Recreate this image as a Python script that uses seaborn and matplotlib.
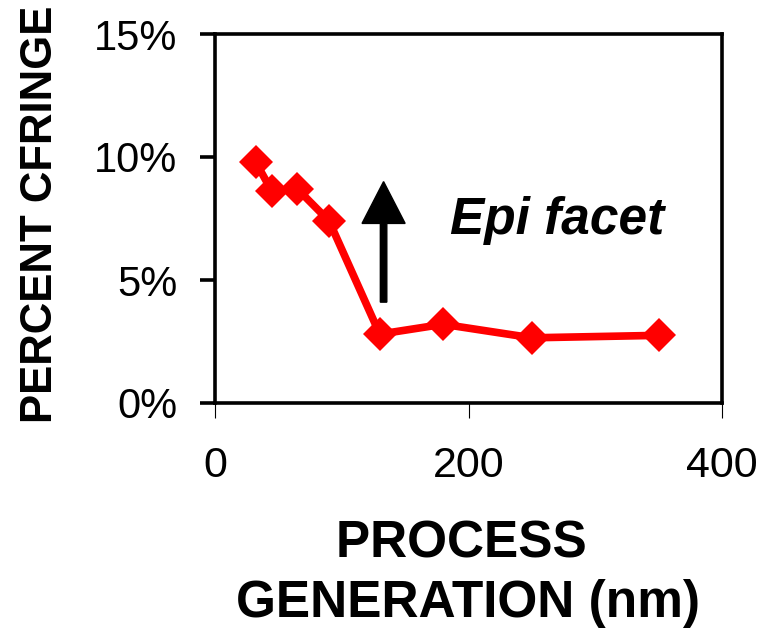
import matplotlib
matplotlib.use("Agg")
import matplotlib.pyplot as plt
from matplotlib.ticker import PercentFormatter
import seaborn as sns
import pandas as pd

# Process node (nm) and share of CFRINGE failures (%)
process_nm = [32, 45, 65, 90, 130, 180, 250, 350]
pct_cfringe = [9.8, 8.6, 8.7, 7.4, 2.8, 3.2, 2.65, 2.75]

x_ticks = [0, 200, 400]
y_ticks = [0, 5, 10, 15]

x_label = "PROCESS \nGENERATION (nm)"
y_label = "PERCENT CFRINGE"
note_text = "Epi facet"

# Arrow marking the epi facet jump (data units)
arrow_x = 133
arrow_y0, arrow_y1 = 4.1, 9.0

df = pd.DataFrame({"process_nm": process_nm, "pct": pct_cfringe})

sns.set_theme(style="ticks")
plt.rcParams["font.family"] = ["Liberation Sans", "DejaVu Sans"]

fig = plt.figure(figsize=(7.8, 6.29), dpi=100)
ax = fig.add_axes([215 / 780, 1 - 403 / 629, 507 / 780, 369 / 629])

sns.lineplot(data=df, x="process_nm", y="pct", ax=ax, color="#ff0000",
             linewidth=5.5, marker="D", markersize=17,
             markeredgecolor="#ff0000", markeredgewidth=0)

ax.set_xlim(0, 400)
ax.set_ylim(0, 15)
ax.set_xticks(x_ticks)
ax.set_yticks(y_ticks)
ax.yaxis.set_major_formatter(PercentFormatter(decimals=0))

for side in ["left", "right", "top", "bottom"]:
    ax.spines[side].set_visible(True)
    ax.spines[side].set_linewidth(2.6)
    ax.spines[side].set_color("black")

ax.tick_params(axis="y", direction="out", length=11, width=2.6,
               labelsize=30, pad=16, colors="black")
ax.tick_params(axis="x", direction="out", length=11, width=0.8,
               labelsize=31, pad=20, colors="black")

ax.set_xlabel(x_label, fontsize=37, fontweight="bold", va="top",
              linespacing=1.28, color="black")
ax.xaxis.set_label_coords(0.5, -0.315)
ax.set_ylabel(y_label, fontsize=31.5, fontweight="bold", va="center",
              color="black")
ax.yaxis.set_label_coords(-0.345, 0.512)

ax.arrow(arrow_x, arrow_y0, 0, arrow_y1 - arrow_y0, width=5.1,
         head_width=34, head_length=1.7, length_includes_head=True,
         color="black", zorder=3)

ax.text(185.4, 6.87, note_text, fontsize=37, fontweight="bold",
        fontstyle="italic", ha="left", va="baseline", color="black")

fig.savefig("out.png", dpi=100)
